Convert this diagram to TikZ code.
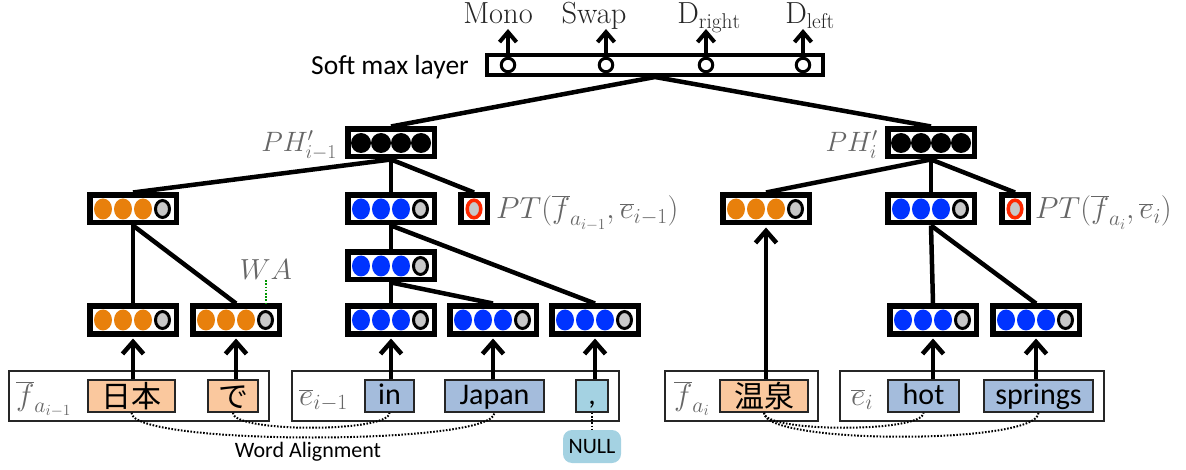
\RequirePackage{fix-cm}
\documentclass[tikz,border=0pt]{standalone}
\usepackage{fontspec}
\newfontfamily\carl{Carlito}
\newfontfamily\jpn{Noto Sans CJK JP}
\usetikzlibrary{arrows.meta}
\pgfdeclarelayer{bg}
\pgfsetlayers{bg,main}

\definecolor{dotorange}{RGB}{232,128,12}
\definecolor{dotblue}{RGB}{0,51,255}
\definecolor{dotgray}{RGB}{200,200,200}
\definecolor{ringred}{RGB}{255,40,0}
\definecolor{peach}{RGB}{250,200,158}
\definecolor{wordblue}{RGB}{164,188,220}
\definecolor{wordcyan}{RGB}{164,210,226}
\definecolor{wagreen}{RGB}{0,150,0}

\tikzset{
  vbox/.style={draw, line width=5.5pt, fill=white, minimum width=86.5pt,
    minimum height=27.5pt, inner sep=0pt},
  rbox/.style={draw, line width=5.5pt, fill=white, minimum width=26.5pt,
    minimum height=27.5pt, inner sep=0pt},
  smbox/.style={draw, line width=4pt, fill=white, minimum width=336pt,
    minimum height=20pt, inner sep=0pt},
  smc/.style={circle, draw, line width=3pt, fill=white, minimum size=13.5pt,
    inner sep=0pt},
  link/.style={line width=4.5pt},
  uparrow/.style={line width=4.5pt, shorten >=2pt,
    -{Straight Barb[length=12pt,width=21pt]}},
  smarrow/.style={line width=4pt, -{Straight Barb[length=10pt,width=17pt]}},
  toplab/.style={anchor=base, text=black!85, inner sep=0pt,
    font=\fontsize{30.5}{33}\selectfont},
  mlab/.style={text=black!60, inner sep=0pt, font=\fontsize{28}{30}\selectfont},
  ptlab/.style={text=black!60, inner sep=0pt, font=\fontsize{30.5}{32}\selectfont},
  outerbox/.style={draw=black!85, line width=1.6pt, minimum height=50pt,
    inner sep=0pt},
  jword/.style={draw=black!85, line width=1.5pt, fill=peach, minimum height=32pt,
    inner sep=0pt, text height=24pt, text depth=2pt,
    font=\jpn\fontsize{30}{30}\selectfont},
  eword/.style={draw=black!85, line width=1.5pt, fill=wordblue, minimum height=32pt,
    inner sep=0pt, text height=22pt, text depth=6pt,
    font=\carl\fontsize{30}{30}\selectfont},
  nullbox/.style={fill=wordcyan, rounded corners=9pt, minimum width=58pt,
    minimum height=33pt, inner sep=0pt, font=\carl\fontsize{22}{24}\selectfont},
  alignline/.style={line width=2pt, dash pattern=on 1.6pt off 1.6pt},
  wadot/.style={wagreen, line width=2pt, dash pattern=on 1.6pt off 1.6pt},
}

% vector with three coloured units and one grey unit
\newcommand\unitvec[4]{%
  \node[vbox] (#1) at (#2,#3) {};
  \foreach \dx in {-30,-10,10}
    \fill[#4] (#1.center) ++(\dx,0) circle[x radius=9pt, y radius=10.5pt];
  \filldraw[fill=dotgray, draw=black, line width=3pt]
    (#1.center) ++(29.5,0) circle[x radius=7pt, y radius=8.5pt];
}
% phrase vector with four black units
\newcommand\phrasevec[3]{%
  \node[vbox] (#1) at (#2,#3) {};
  \foreach \dx in {-30,-10,10,30}
    \fill[black] (#1.center) ++(\dx,0) circle[x radius=10pt, y radius=10pt];
}
% single unit with red ring
\newcommand\ptvec[3]{%
  \node[rbox] (#1) at (#2,#3) {};
  \filldraw[fill=dotgray, draw=ringred, line width=3.5pt]
    (#1.center) circle[x radius=6.8pt, y radius=8.8pt];
}

\begin{document}
\begin{tikzpicture}[x=1pt,y=-1pt]
\useasboundingbox (0,0) rectangle (1186,470);

% ---- soft max layer ----
\node[smbox] (sm) at (655,65) {};
\foreach \n/\x in {1/508,2/606,3/706,4/803}
  \node[smc] (c\n) at (\x,65) {};
\node[anchor=base east, inner sep=0pt, font=\carl\fontsize{27.5}{30}\selectfont]
  (smlab) at (469,75) {Soft max layer};

\node[toplab] (lmono) at (498,24) {Mono};
\node[toplab] (lswap) at (594,24) {Swap};
\node[toplab] (lright) at (709,24) {$\mathrm{D}_{\mathrm{right}}$};
\node[toplab] (lleft) at (810,24) {$\mathrm{D}_{\mathrm{left}}$};
\foreach \n/\x in {1/508,2/606,3/706,4/803} {
  \coordinate (t\n) at (\x,29);
  \draw[smarrow] (c\n.north) -- (t\n);
}

% ---- phrase vectors ----
\phrasevec{ph1}{391}{143}
\phrasevec{ph2}{931}{143}
\node[mlab, anchor=base east] (lph1) at (337,152) {$PH'_{i-1}$};
\node[mlab, anchor=base east] (lph2) at (878,152) {$PH'_{i}$};

% ---- second level ----
\unitvec{o1}{133}{209}{dotorange}
\unitvec{b1}{391}{209}{dotblue}
\ptvec{r1}{474}{209}
\unitvec{o2}{766}{209}{dotorange}
\unitvec{b2}{931}{209}{dotblue}
\ptvec{r2}{1015}{209}
\node[ptlab, anchor=base west] (lpt1) at (496,219)
  {$PT(\overline{f}_{a_{i-1}},\overline{e}_{i-1})$};
\node[ptlab, anchor=base west] (lpt2) at (1035,219)
  {$PT(\overline{f}_{a_{i}},\overline{e}_{i})$};

% ---- third level ----
\unitvec{bm}{391}{266}{dotblue}

% ---- word vectors ----
\unitvec{o3}{133}{320}{dotorange}
\unitvec{o4}{236}{320}{dotorange}
\unitvec{b3}{391}{320}{dotblue}
\unitvec{b4}{493}{320}{dotblue}
\unitvec{b5}{595}{320}{dotblue}
\unitvec{b6}{933}{320}{dotblue}
\unitvec{b7}{1036}{320}{dotblue}

\node[mlab, font=\fontsize{29}{30}\selectfont] (wa) at (266,270) {$WA$};
\draw[wadot] (wa.south) -- (wa.south |- o4.north);

% ---- tree links ----
\begin{pgfonlayer}{bg}
\draw[link] (sm.south) -- (ph1.north);
\draw[link] (sm.south) -- (ph2.north);
\draw[link] (ph1.south) -- (o1.north);
\draw[link] (ph1.south) -- (b1.north);
\draw[link] (ph1.south) -- (r1.north);
\draw[link] (ph2.south) -- (o2.north);
\draw[link] (ph2.south) -- (b2.north);
\draw[link] (ph2.south) -- (r2.north);
\draw[link] (o1.south) -- (o3.north);
\draw[link] (o1.south) -- (o4.north);
\draw[link] (b1.south) -- (bm.north);
\draw[link] (b1.south) -- (b5.north);
\draw[link] (bm.south) -- (b3.north);
\draw[link] (bm.south) -- (b4.north);
\draw[link] (b2.south) -- (b6.north);
\draw[link] (b2.south) -- (b7.north);
\end{pgfonlayer}

% ---- phrase pairs ----
\node[outerbox, minimum width=260pt] (fo1) at (139,396) {};
\node[outerbox, minimum width=327pt] (eo1) at (455.5,396) {};
\node[outerbox, minimum width=153pt] (fo2) at (741.5,396) {};
\node[outerbox, minimum width=264pt] (eo2) at (972,396) {};

\node[mlab, anchor=base west, font=\fontsize{31}{32}\selectfont] (lf1) at (16,405)
  {$\overline{f}_{a_{i-1}}$};
\node[mlab, anchor=base west, font=\fontsize{31}{32}\selectfont] (le1) at (299,405)
  {$\overline{e}_{i-1}$};
\node[mlab, anchor=base west, font=\fontsize{31}{32}\selectfont] (lf2) at (674,405)
  {$\overline{f}_{a_{i}}$};
\node[mlab, anchor=base west, font=\fontsize{31}{32}\selectfont] (le2) at (851,405)
  {$\overline{e}_{i}$};

\node[jword, minimum width=87pt] (wnihon) at (131.5,396) {日本};
\node[jword, minimum width=50pt] (wde) at (233,396) {で};
\node[eword, minimum width=49pt] (win) at (389.5,396) {in};
\node[eword, minimum width=99pt] (wjapan) at (494.5,396) {Japan};
\node[eword, minimum width=32pt, fill=wordcyan] (wcomma) at (592,396) {,};
\node[jword, minimum width=88pt] (wonsen) at (764,396) {温泉};
\node[eword, minimum width=71pt] (whot) at (923.5,396) {hot};
\node[eword, minimum width=109pt] (wsprings) at (1038.5,396) {springs};
\node[nullbox] (wnull) at (592,446.5) {NULL};

% ---- word to vector arrows ----
\draw[uparrow] (o3.south |- wnihon.north) -- (o3.south);
\draw[uparrow] (o4.south |- wde.north) -- (o4.south);
\draw[uparrow] (b3.south |- win.north) -- (b3.south);
\draw[uparrow] (b4.south |- wjapan.north) -- (b4.south);
\draw[uparrow] (b5.south |- wcomma.north) -- (b5.south);
\draw[uparrow] (o2.south |- wonsen.north) -- (o2.south);
\draw[uparrow] (b6.south |- whot.north) -- (b6.south);
\draw[uparrow] (b7.south |- wsprings.north) -- (b7.south);

% ---- word alignment ----
\draw[alignline] (wnihon.south) .. controls +(0,33) and +(0,33) .. (wjapan.south);
\draw[alignline] (wde.south) .. controls +(0,20) and +(0,20) .. (win.south);
\draw[alignline] (wonsen.south) .. controls +(0,20) and +(0,20) .. (whot.south);
\draw[alignline] (wonsen.south) .. controls +(0,32) and +(0,32) .. (wsprings.south);
\draw[alignline] (wcomma.south) -- (wnull.north);
\node[inner sep=0pt, font=\carl\fontsize{22}{24}\selectfont] (walab) at (308,452)
  {Word Alignment};
\end{tikzpicture}
\end{document}
